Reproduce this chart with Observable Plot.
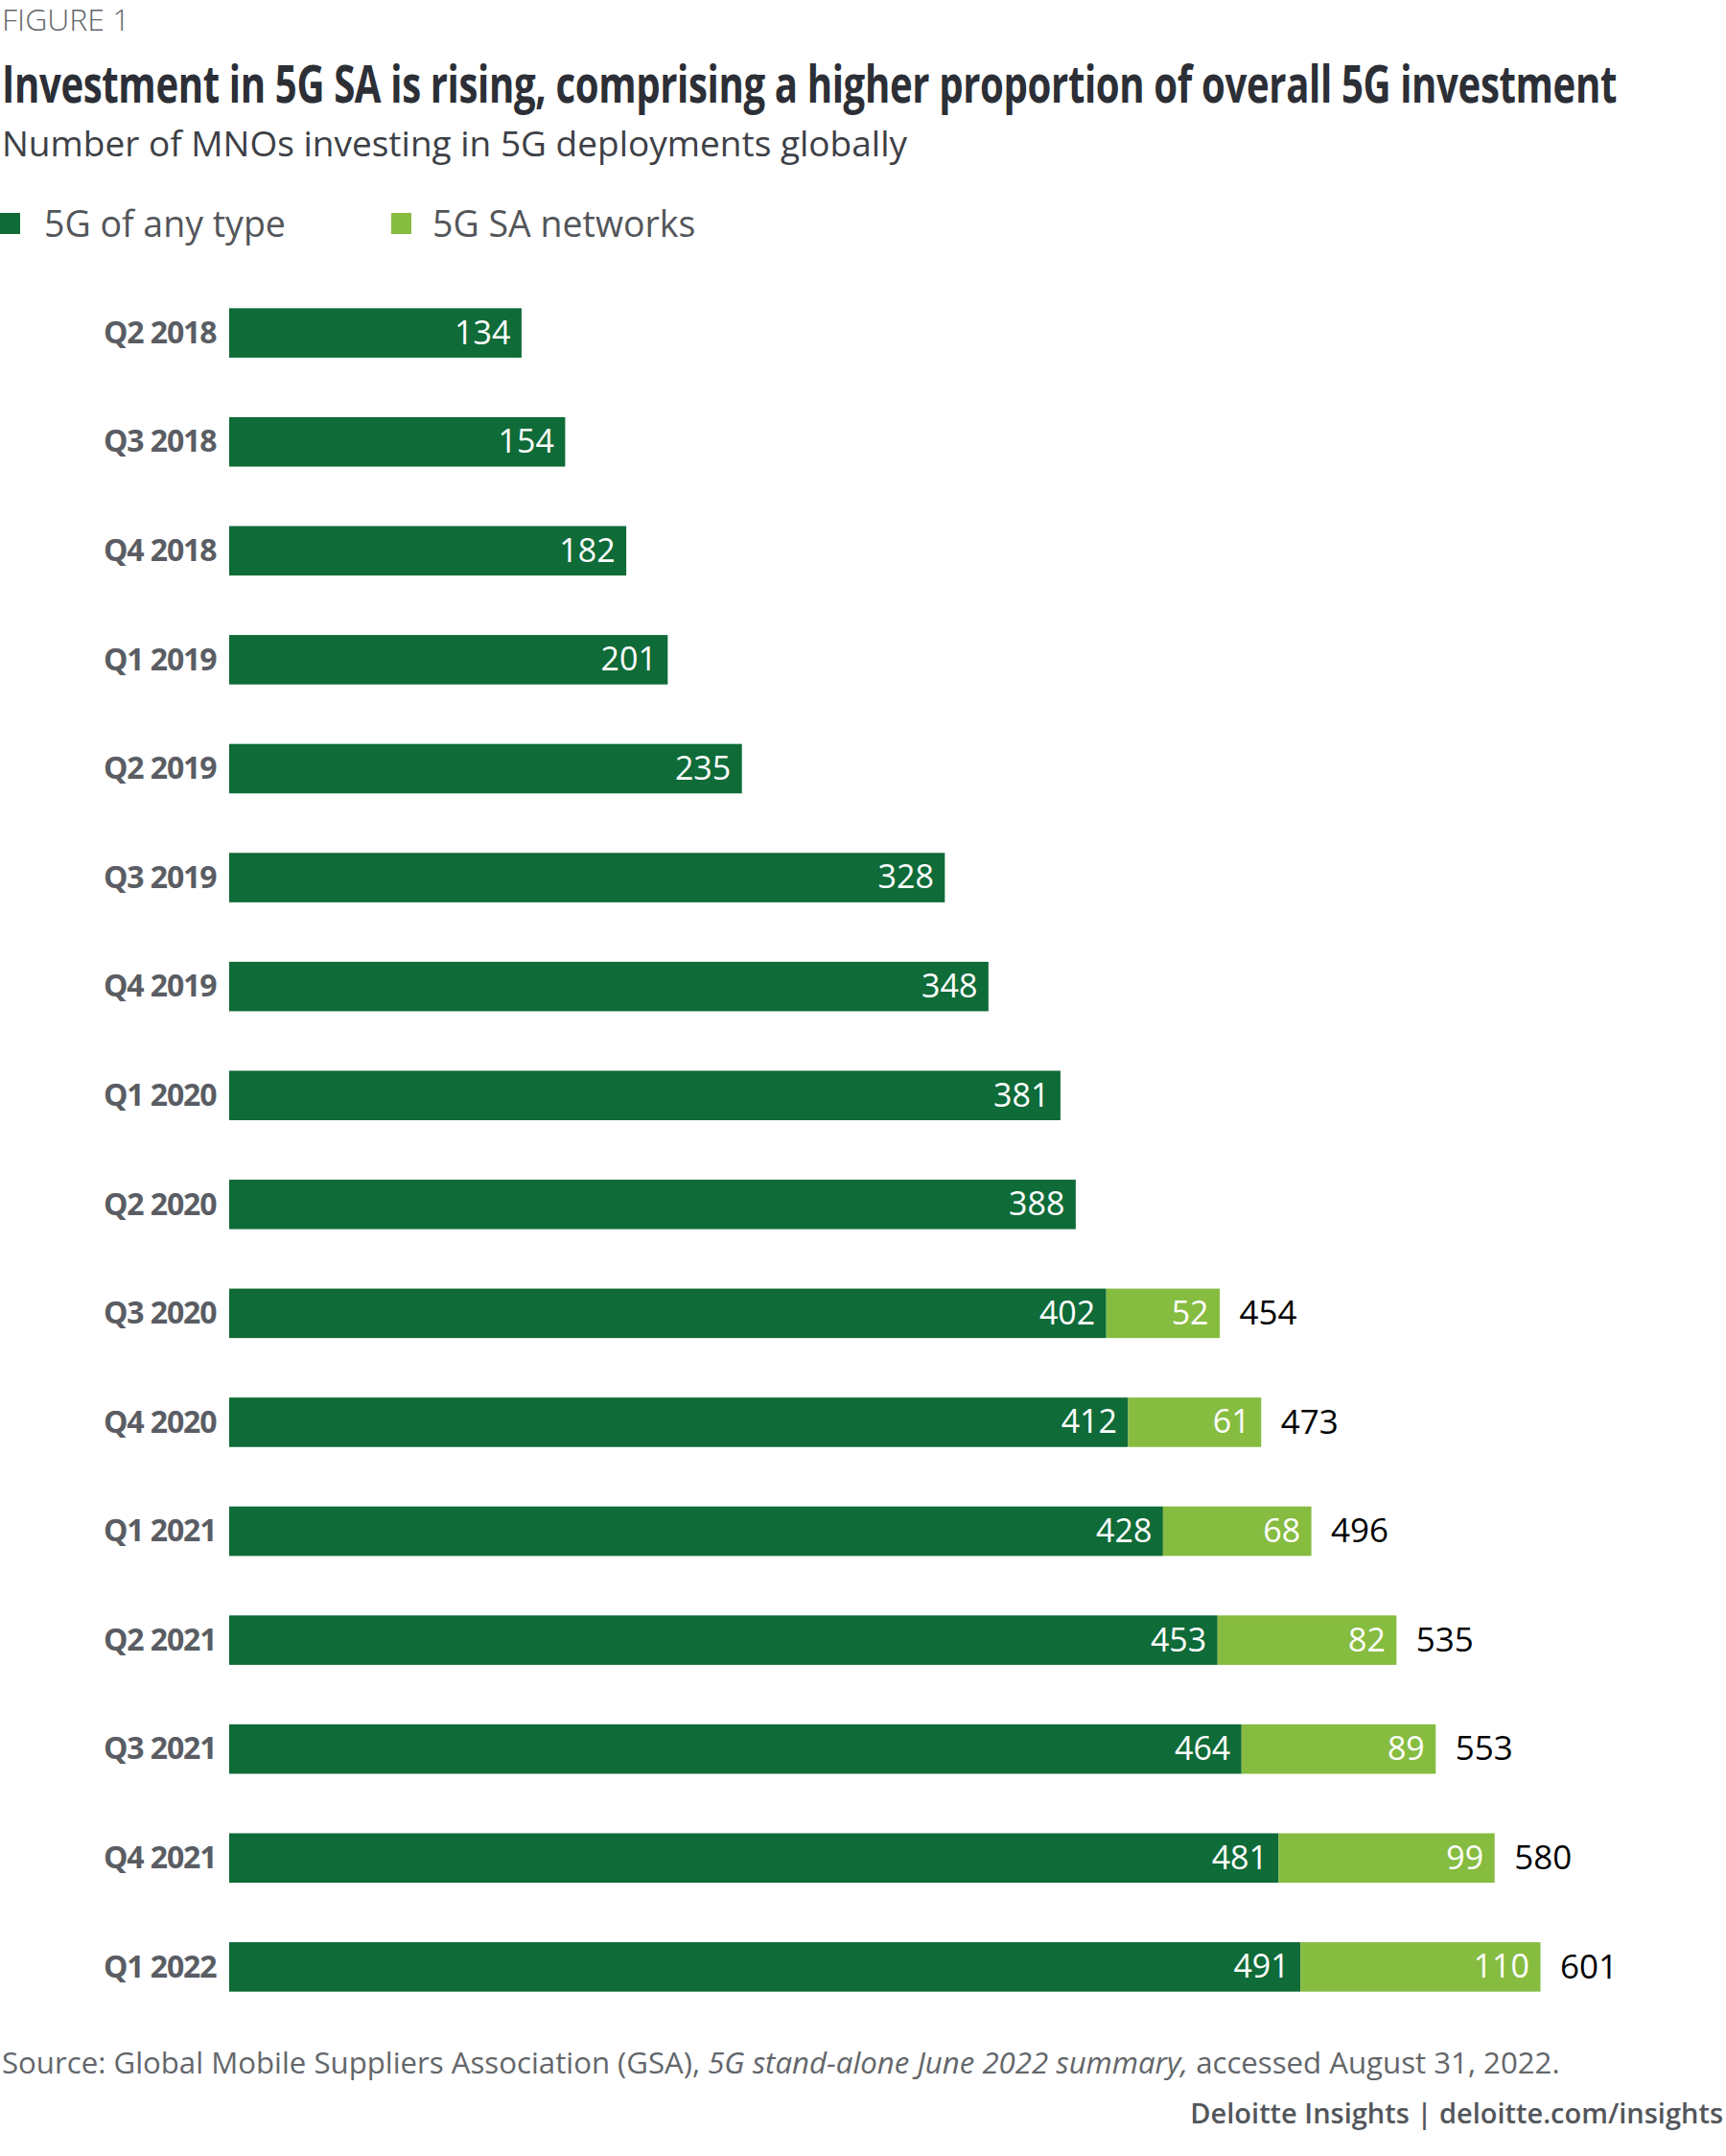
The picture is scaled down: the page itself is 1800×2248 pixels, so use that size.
<!DOCTYPE html>
<html>
<head>
<meta charset="utf-8">
<script src="https://cdn.jsdelivr.net/npm/d3@7"></script>
<script src="https://cdn.jsdelivr.net/npm/@observablehq/plot@0.6"></script>
<style>
  html, body { margin: 0; padding: 0; background: #fff; }
  body { width: 1800px; height: 2248px; position: relative; font-family: "Open Sans", sans-serif; overflow: hidden; }
  .abs { position: absolute; line-height: 1; white-space: nowrap; }
  #fig { left: 2px; top: 4px; font-size: 32px; color: #63666a; font-weight: 300; }
  #title { left: 2px; top: 59px; font-size: 54px; font-weight: 700; color: #2c2f36; transform-origin: left center; letter-spacing: -0.5px; }
  #subtitle { left: 2px; top: 130px; font-size: 37px; color: #3d4046; }
  .leg { top: 214px; font-size: 37.5px; color: #53565a; }
  .sw { position: absolute; top: 222px; width: 21px; height: 22px; }
  #source { left: 2px; top: 2135px; font-size: 31.2px; color: #63666a; }
  #brand { right: 3px; top: 2188px; font-size: 29px; color: #53565a; font-weight: 600; }
  #chart { position: absolute; left: 0; top: 290px; }
  #chart g[aria-label="y-axis tick label"] { letter-spacing: -1.1px; }
</style>
</head>
<body>
<div id="fig" class="abs">FIGURE 1</div>
<div id="title" class="abs">Investment in 5G SA is rising, comprising a higher proportion of overall 5G investment</div>
<div id="subtitle" class="abs">Number of MNOs investing in 5G deployments globally</div>
<div class="sw" style="left:0px;background:#0f6b38"></div>
<div class="abs leg" style="left:46px">5G of any type</div>
<div class="sw" style="left:408px;background:#86bc40"></div>
<div class="abs leg" style="left:451px">5G SA networks</div>
<div id="chart"></div>
<div id="source" class="abs">Source: Global Mobile Suppliers Association (GSA), <i>5G stand-alone June 2022 summary,</i> accessed August 31, 2022.</div>
<div id="brand" class="abs">Deloitte Insights | deloitte.com/insights</div>
<script>
const quarters = ["Q2 2018","Q3 2018","Q4 2018","Q1 2019","Q2 2019","Q3 2019","Q4 2019","Q1 2020","Q2 2020","Q3 2020","Q4 2020","Q1 2021","Q2 2021","Q3 2021","Q4 2021","Q1 2022"];
const anyType = [134,154,182,201,235,328,348,381,388,402,412,428,453,464,481,491];
const saNetworks = [null,null,null,null,null,null,null,null,null,52,61,68,82,89,99,110];
const totals = [null,null,null,null,null,null,null,null,null,454,473,496,535,553,580,601];

const colorAny = "#0f6b38";
const colorSA = "#86bc40";

const rows = quarters.map((q, i) => ({q, any: anyType[i], sa: saNetworks[i], total: totals[i]}));
const saRows = rows.filter(d => d.sa != null);

// condense title to its reference width
const t = document.getElementById("title");
const tw = t.getBoundingClientRect().width;
t.style.transform = `scaleX(${1684 / tw})`;

const chart = Plot.plot({
  width: 1800,
  height: 1800,
  marginLeft: 239,
  marginRight: 82,
  marginTop: 20,
  marginBottom: 2,
  x: {domain: [0, 650], axis: null},
  y: {domain: quarters, paddingInner: 0.546, paddingOuter: 0.1, round: false, label: null},
  style: {fontFamily: "Open Sans, sans-serif", background: "transparent"},
  marks: [
    Plot.axisY({tickSize: 0, tickPadding: 14, fontSize: 32, fontWeight: 700, fill: "#5a5d63", label: null}),
    Plot.barX(rows, {y: "q", x1: 0, x2: "any", fill: colorAny}),
    Plot.barX(saRows, {y: "q", x1: "any", x2: d => d.any + d.sa, fill: colorSA}),
    Plot.text(rows, {y: "q", x: "any", text: d => String(d.any), textAnchor: "end", dx: -12, fill: "white", fontSize: 34}),
    Plot.text(saRows, {y: "q", x: d => d.any + d.sa, text: d => String(d.sa), textAnchor: "end", dx: -12, fill: "white", fontSize: 34}),
    Plot.text(saRows, {y: "q", x: "total", text: d => String(d.total), textAnchor: "start", dx: 20, fill: "#000", fontSize: 35, fontWeight: 500})
  ]
});
document.getElementById("chart").appendChild(chart);
</script>
</body>
</html>
